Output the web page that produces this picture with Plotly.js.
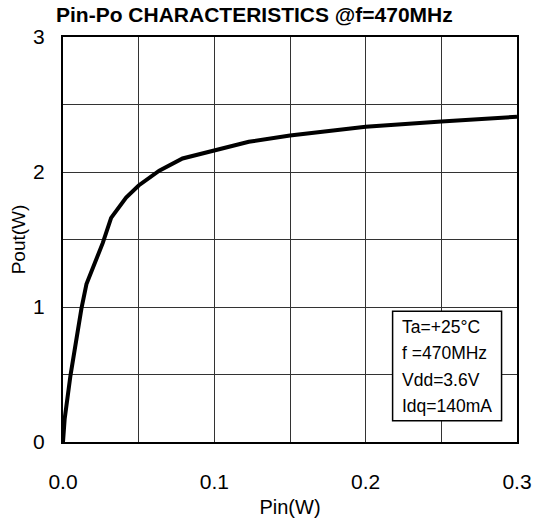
<!DOCTYPE html>
<html>
<head>
<meta charset="utf-8">
<script src="https://cdn.plot.ly/plotly-3.0.1.min.js"></script>
<style>html,body{margin:0;padding:0;background:#fff;}#chart{width:541px;height:520px;}</style>
</head>
<body>
<div id="chart"></div>
<script>
var pin  = [0, 0.0011, 0.0049, 0.0077, 0.0122, 0.0155, 0.0263, 0.0318, 0.0417, 0.05, 0.0636, 0.079, 0.0991, 0.1228, 0.15, 0.2, 0.25, 0.3];
var pout = [0, 0.17, 0.49, 0.70, 0.99, 1.17, 1.475, 1.66, 1.81, 1.90, 2.01, 2.10, 2.16, 2.224, 2.27, 2.335, 2.374, 2.409];
var xTickVals = [0, 0.1, 0.2, 0.3];
var xTickText = ["0.0", "0.1", "0.2", "0.3"];
var yTickVals = [0, 1, 2, 3];
var yTickText = ["0", "1", "2", "3"];
var boxLines = ["Ta=+25°C", "f =470MHz", "Vdd=3.6V", "Idq=140mA"];
var titleText = "Pin-Po CHARACTERISTICS @f=470MHz";

var FONT = "Arial, 'Liberation Sans', sans-serif";
var lineY = [0.2847, 0.219, 0.154, 0.0889];
var annots = boxLines.map(function (t, i) {
  return {xref: 'paper', yref: 'paper', x: 0.742, y: lineY[i], xanchor: 'left', yanchor: 'middle',
          text: t, showarrow: false, font: {family: FONT, size: 17.5, color: '#000'}};
});

var layout = {
  width: 541, height: 520,
  margin: {l: 63, r: 24, t: 37, b: 78},
  paper_bgcolor: '#fff', plot_bgcolor: '#fff',
  showlegend: false,
  font: {family: FONT, color: '#000'},
  title: {text: '<b>' + titleText + '</b>', font: {family: FONT, size: 21, color: '#000'},
          xref: 'container', yref: 'container', x: 56 / 541, xanchor: 'left', y: 1 - 15 / 520, yanchor: 'middle'},
  xaxis: {
    range: [0, 0.3], tickvals: xTickVals, ticktext: xTickText, ticks: '', ticklabelstandoff: 20,
    showgrid: true, gridcolor: '#333', gridwidth: 1,
    minor: {tickvals: [0.05, 0.15, 0.25], showgrid: true, gridcolor: '#333', gridwidth: 1, ticks: ''},
    showline: true, linecolor: '#000', linewidth: 2, mirror: true, zeroline: false,
    tickfont: {family: FONT, size: 21, color: '#000'},
    title: {text: 'Pin(W)', font: {family: FONT, size: 20, color: '#000'}, standoff: 8}
  },
  yaxis: {
    range: [0, 3], tickvals: yTickVals, ticktext: yTickText, ticks: '', ticklabelstandoff: 12,
    showgrid: true, gridcolor: '#333', gridwidth: 1,
    minor: {tickvals: [0.5, 1.5, 2.5], showgrid: true, gridcolor: '#333', gridwidth: 1, ticks: ''},
    showline: true, linecolor: '#000', linewidth: 2, mirror: true, zeroline: false,
    tickfont: {family: FONT, size: 21, color: '#000'},
    title: {text: 'Pout(W)', font: {family: FONT, size: 19, color: '#000'}, standoff: 2}
  },
  shapes: [{type: 'rect', xref: 'paper', yref: 'paper', x0: 0.726, x1: 0.966, y0: 0.0526, y1: 0.323,
            line: {color: '#000', width: 1.5}, fillcolor: '#fff', layer: 'above'}],
  annotations: annots
};

var trace = {x: pin, y: pout, type: 'scatter', mode: 'lines', line: {color: '#000', width: 4}};

Plotly.newPlot('chart', [trace], layout, {displayModeBar: false, staticPlot: true});
</script>
</body>
</html>
